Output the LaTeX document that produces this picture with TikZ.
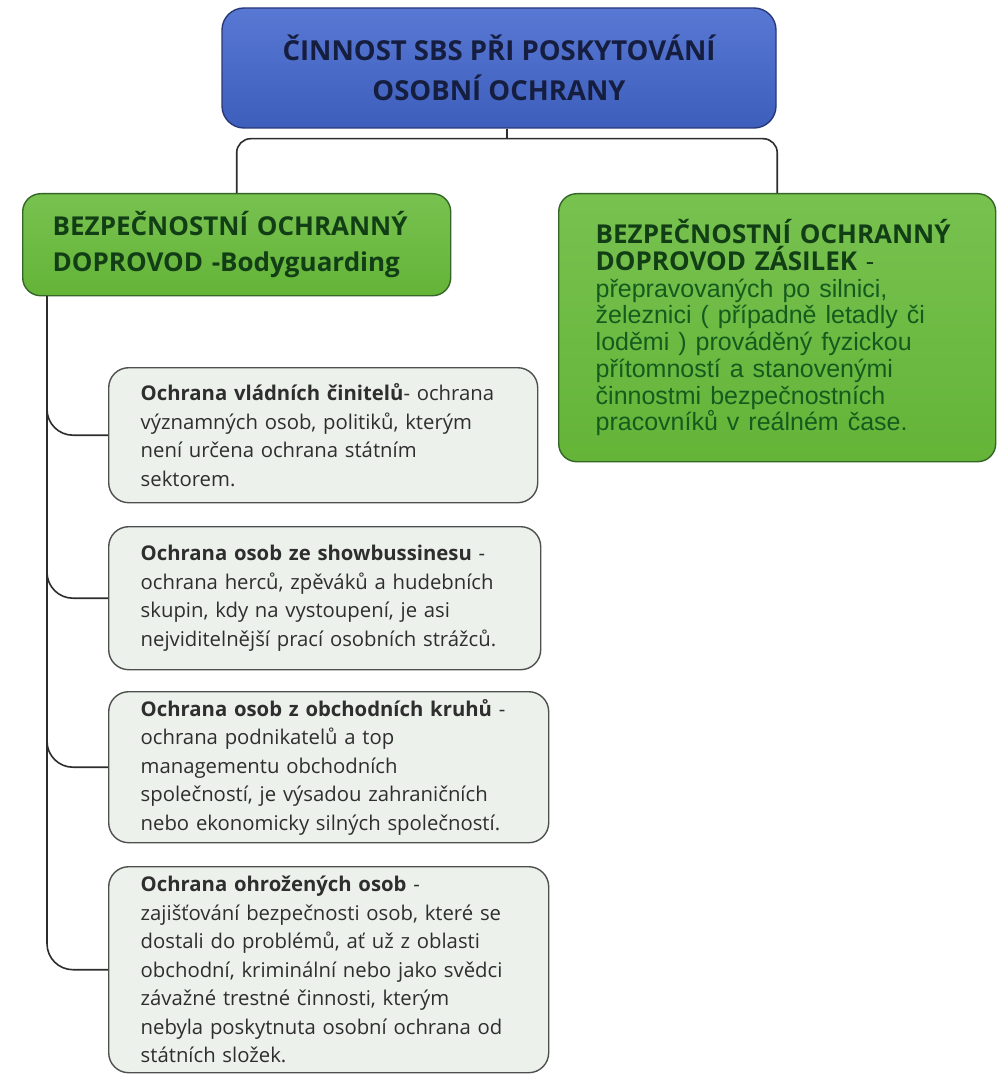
\documentclass[tikz,border=0pt]{standalone}
\usepackage{fontspec}
\setmainfont{Open Sans}
\newfontfamily\arialfont{Liberation Sans}
\usepackage{tikz}
\usetikzlibrary{positioning}
\definecolor{bluetop}{RGB}{88,120,212}
\definecolor{bluebot}{RGB}{62,94,188}
\definecolor{blueedge}{RGB}{40,56,120}
\definecolor{navytext}{RGB}{22,30,64}
\definecolor{greentop}{RGB}{120,194,80}
\definecolor{greenbot}{RGB}{100,180,56}
\definecolor{greenedge}{RGB}{52,102,40}
\definecolor{greentext}{RGB}{18,62,22}
\definecolor{greenbody}{RGB}{20,92,30}
\definecolor{childfill}{RGB}{236,241,236}
\definecolor{childedge}{RGB}{78,80,78}
\definecolor{linegray}{RGB}{45,45,45}
\tikzset{topbox/.style = {draw=blueedge,line width=1.4pt,rounded corners=22pt,
    top color=bluetop,bottom color=bluebot,text=navytext,align=center,
    font=\bfseries\fontsize{27.5}{40}\selectfont,minimum width=554pt,minimum height=120pt}}
\tikzset{greenbox/.style = {draw=greenedge,line width=1.4pt,rounded corners=18pt,
    top color=greentop,bottom color=greenbot,text=greentext,align=left,anchor=north west,
    inner xsep=#1,inner ysep=4pt}}
\tikzset{childbox/.style = {draw=childedge,line width=1.4pt,rounded corners=20pt,
    fill=childfill,text=black!82,align=left,anchor=north west,inner xsep=32pt,inner ysep=2pt,
    font=\fontsize{20.3}{28.5}\selectfont}}
\tikzset{conn/.style = {draw=linegray,line width=1.6pt,rounded corners=#1}}

\begin{document}
\begin{tikzpicture}[x=1pt,y=-1pt]
\useasboundingbox[fill=white] (0,0) rectangle (997,1075);
\node[topbox] (top) at (499,68) {ČINNOST SBS PŘI POSKYTOVÁNÍ\\OSOBNÍ OCHRANY};
\node[greenbox=30pt,text width=368pt,minimum height=102pt,
      font=\bfseries\fontsize{26}{36}\selectfont] (guard) at (22,193)
      {BEZPEČNOSTNÍ OCHRANNÝ\\DOPROVOD -Bodyguarding};
\node[greenbox=37pt,text width=363pt,minimum height=268pt,
      font=\bfseries\fontsize{26}{26.6}\selectfont] (cargo) at (558,193)
      {\mbox{BEZPEČNOSTNÍ OCHRANNÝ}\\
       DOPROVOD ZÁSILEK \mdseries-\\
       \arialfont\color{greenbody}\fontsize{25}{26.8}\selectfont\spaceskip=.36em
       přepravovaných po silnici,\\ železnici ( případně letadly či\\
       loděmi ) prováděný fyzickou\\ přítomností a stanovenými\\
       činnostmi bezpečnostních\\ pracovníků v reálném čase.};
% podrizene uzly
\node[childbox,text width=365pt,minimum height=135pt] (gov) at (108,367)
      {\textbf{Ochrana vládních činitelů}- ochrana\\ významných osob, politiků, kterým\\
       není určena ochrana státním\\ sektorem.};
\node[childbox,text width=368pt,minimum height=143pt] (show) at (108,526)
      {\textbf{Ochrana osob ze showbussinesu} -\\ ochrana herců, zpěváků a hudebních\\
       skupin, kdy na vystoupení, je asi\\ nejviditelnější prací osobních strážců.};
\node[childbox,text width=376pt,minimum height=151pt] (biz) at (108,691)
      {\textbf{Ochrana osob z obchodních kruhů} -\\ ochrana podnikatelů a top\\
       managementu obchodních\\ společností, je výsadou zahraničních\\
       nebo ekonomicky silných společností.};
\node[childbox,text width=376pt,minimum height=206pt] (risk) at (108,866)
      {\textbf{Ochrana ohrožených osob} -\\ zajišťování bezpečnosti osob, které se\\
       dostali do problémů, ať už z oblasti\\ obchodní, kriminální nebo jako svědci\\
       závažné trestné činnosti, kterým\\ nebyla poskytnuta osobní ochrana od\\
       státních složek.};
% spojnice
\draw[conn=0pt] ([xshift=8pt]top.south) -- ++(0,10) coordinate (hub);
\draw[conn=14pt] (hub) -| (guard.north);
\draw[conn=14pt] (hub) -| (cargo.north);
\foreach \c in {gov,show,biz,risk}
  \draw[conn=26pt] ([xshift=25pt]guard.south west) |- (\c.west);
\end{tikzpicture}
\end{document}
